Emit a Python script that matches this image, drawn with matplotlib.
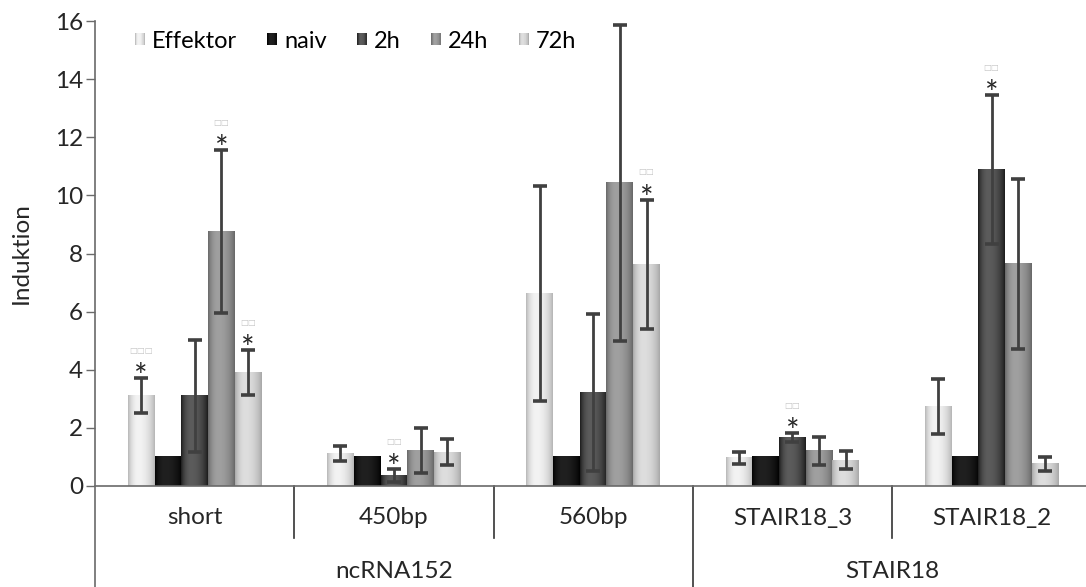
import numpy as np
import matplotlib
matplotlib.use("Agg")
import matplotlib.pyplot as plt
from matplotlib.legend_handler import HandlerBase
from matplotlib.patches import Rectangle
from matplotlib.lines import Line2D
from matplotlib.colors import to_rgb
import matplotlib.transforms as mtransforms

plt.rcParams['font.family'] = ['Lato', 'DejaVu Sans']

# ---- data -------------------------------------------------------------
categories = ["short", "450bp", "560bp", "STAIR18_3", "STAIR18_2"]
groups = ["ncRNA152", "STAIR18"]
group_first = [0, 3]
group_last = [2, 4]
series = ["Effektor", "naiv", "2h", "24h", "72h"]

effektor = [3.10, 1.12, 6.63, 0.97, 2.73]
naiv = [1.00, 1.00, 1.00, 1.00, 1.00]
h2 = [3.10, 0.36, 3.22, 1.66, 10.88]
h24 = [8.75, 1.22, 10.43, 1.21, 7.64]
h72 = [3.90, 1.16, 7.62, 0.89, 0.76]

err_effektor = [0.60, 0.25, 3.70, 0.20, 0.95]
err_2h = [1.94, 0.22, 2.70, 0.15, 2.57]
err_24h = [2.80, 0.78, 5.44, 0.49, 2.92]
err_72h = [0.78, 0.45, 2.23, 0.31, 0.25]

values = [effektor, naiv, h2, h24, h72]
errors = [err_effektor, None, err_2h, err_24h, err_72h]

# significance marks: (series index, category index, placeholder boxes)
significant = [(0, 0, 3), (3, 0, 2), (4, 0, 2), (2, 1, 2),
               (4, 2, 2), (2, 3, 2), (2, 4, 2)]

# ---- styling ----------------------------------------------------------
# (edge colour, highlight colour) for the cylinder-like bar shading
shades = [("#b2b2b2", "#f3f3f3"),
          ("#000000", "#202020"),
          ("#181818", "#5c5c5c"),
          ("#646464", "#a0a0a0"),
          ("#a4a4a4", "#dedede")]
axis_col = "#6a6a6a"
err_col = "#404040"
text_col = "#262626"
fs = 17.5


def shade_profile(t):
    """0 at the bar edges, 1 at the highlight (slightly left of centre)."""
    t = np.asarray(t, dtype=float)
    p = 0.38
    left = 1 - ((p - t) / p) ** 2
    right = 1 - ((t - p) / (1 - p)) ** 2
    return np.clip(np.where(t < p, left, right), 0, 1) ** 0.8


def gradient_row(edge, light, n=64):
    t = (np.arange(n) + 0.5) / n
    w = shade_profile(t)[:, None]
    e = np.array(to_rgb(edge))
    l = np.array(to_rgb(light))
    return e * (1 - w) + l * w


class GradientSwatch:
    def __init__(self, edge, light):
        self.edge = edge
        self.light = light


class HandlerGradient(HandlerBase):
    def create_artists(self, legend, orig_handle, xdescent, ydescent,
                       width, height, fontsize, trans):
        n = 16
        cols = gradient_row(orig_handle.edge, orig_handle.light, n)
        arts = []
        for i in range(n):
            r = Rectangle((-xdescent + i * width / n, -ydescent),
                          width / n * 1.02, height, facecolor=cols[i],
                          edgecolor="none", transform=trans)
            arts.append(r)
        return arts


W, H = 1086, 587
fig = plt.figure(figsize=(W / 100, H / 100), dpi=100)
ax_left, ax_right = 95, 1086
ax_top, ax_bottom = 21, 486
ax = fig.add_axes([ax_left / W, (H - ax_bottom) / H,
                   (ax_right - ax_left) / W, (ax_bottom - ax_top) / H])

group_px = 199.25
x_max = (ax_right - ax_left) / group_px - 0.5
x = np.arange(len(categories))
bar_w = 0.134
n_series = len(series)

for si in range(n_series):
    offs = (si - (n_series - 1) / 2) * bar_w
    bars = ax.bar(x + offs, values[si], width=bar_w, color="none",
                  edgecolor="none", zorder=2)
    grad = gradient_row(*shades[si])[None, :, :]
    for b in bars:
        x0, y0 = b.get_x(), b.get_y()
        ax.imshow(grad, extent=[x0, x0 + b.get_width(), y0, y0 + b.get_height()],
                  aspect="auto", interpolation="bilinear", zorder=2)
    if errors[si] is not None:
        ax.errorbar(x + offs, values[si], yerr=errors[si], fmt="none",
                    ecolor=err_col, elinewidth=2.0, capsize=5, capthick=2.6,
                    zorder=3)

for si, ci, nbox in significant:
    offs = (si - (n_series - 1) / 2) * bar_w
    top = values[si][ci] + errors[si][ci]
    ax.annotate("*", (x[ci] + offs, top), xytext=(0, -6.5), textcoords="offset points",
                ha="center", va="baseline", fontsize=23, color=text_col, zorder=4)
    ax.annotate("\u25a1" * nbox, (x[ci] + offs, top), xytext=(0, 20),
                textcoords="offset points", ha="center", va="center",
                fontsize=6, color="#c4c4c4", family="DejaVu Sans", zorder=4)

ax.set_xlim(-0.5, x_max)
ax.set_ylim(0, 16)
ax.set_yticks(np.arange(0, 17, 2))
ax.set_xticks([])
ax.tick_params(axis="y", direction="out", length=6.5, width=1, color=axis_col,
               labelsize=fs, labelcolor=text_col, pad=2)
for s in ["top", "right", "left"]:
    ax.spines[s].set_visible(False)
ax.spines["bottom"].set_color(axis_col)
ax.spines["bottom"].set_linewidth(1.2)
ax.set_ylabel("Induktion", fontsize=fs, color=text_col, labelpad=17)

# category table below the axis
blend = mtransforms.blended_transform_factory(ax.transData, ax.transAxes)
ax_h = ax_bottom - ax_top
cat_y = -32 / ax_h
grp_y = -86 / ax_h
short_end = -52 / ax_h
long_end = -(H - ax_bottom + 2) / ax_h

for i, c in enumerate(categories):
    ax.text(x[i], cat_y, c, transform=blend, ha="center", va="center",
            fontsize=fs, color=text_col)
for g, a, b in zip(groups, group_first, group_last):
    ax.text((x[a] + x[b]) / 2, grp_y, g, transform=blend, ha="center",
            va="center", fontsize=fs, color=text_col)

# y-axis line running through the table, plus the group separators
ax.add_line(Line2D([-0.5, -0.5], [long_end, 1], transform=blend,
                   color=axis_col, lw=1.2, clip_on=False))
for i in range(1, len(categories)):
    end = long_end if i in group_first else short_end
    ax.add_line(Line2D([i - 0.5, i - 0.5], [0, end], transform=blend,
                       color="#333333", lw=1.2, clip_on=False))

handles = [GradientSwatch(*s) for s in shades]
leg_fs = 17
leg = ax.legend(handles, series, handler_map={GradientSwatch: HandlerGradient()},
                loc="center left",
                bbox_to_anchor=(40 / (ax_right - ax_left), (ax_bottom - 41) / ax_h),
                ncol=5, frameon=False, fontsize=leg_fs, handlelength=0.42,
                handleheight=0.42, handletextpad=0.3, columnspacing=1.28,
                borderpad=0, borderaxespad=0)
for t in leg.get_texts():
    t.set_color("black")

fig.savefig("out.png", dpi=100)
